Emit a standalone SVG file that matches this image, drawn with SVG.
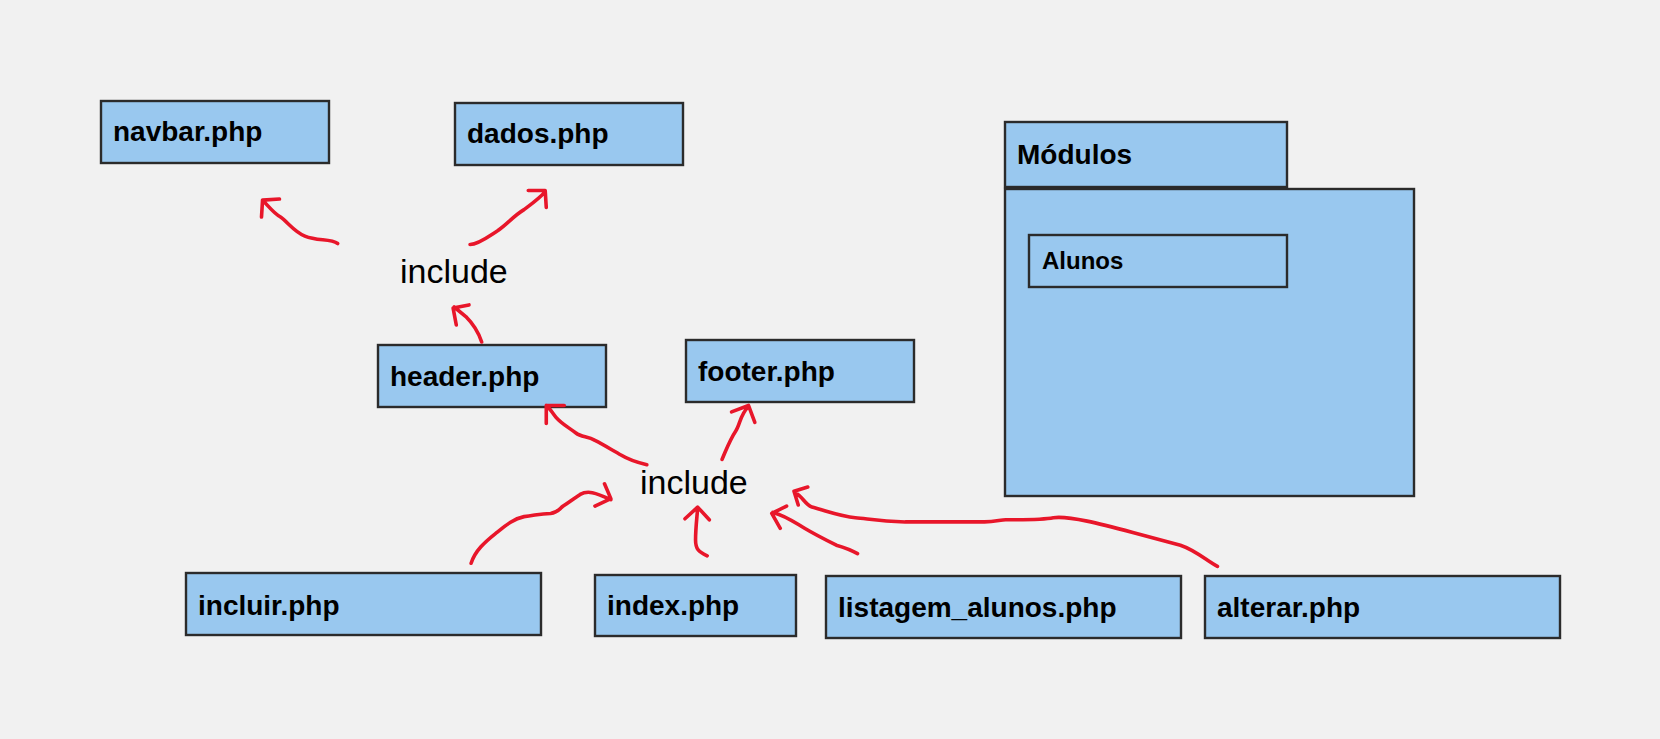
<svg xmlns="http://www.w3.org/2000/svg" width="1660" height="739" viewBox="0 0 1660 739">
<style>
.box{fill:#99c8ef;stroke:#2b2b2b;stroke-width:2.4}
.lbl{font-family:"Liberation Sans",Arial,sans-serif;font-weight:bold;font-size:28px;fill:#000}
.sm{font-size:24px}
.inc{font-family:"Liberation Sans",Arial,sans-serif;font-size:34px;fill:#000}
.ar{fill:none;stroke:#e8162a;stroke-width:3.4;stroke-linecap:round;stroke-linejoin:round}
</style>
<rect width="1660" height="739" fill="#f1f1f1"/>
<g id="navbar"><rect class="box" x="101" y="101" width="228" height="62"/><text class="lbl" x="113" y="141">navbar.php</text></g>
<g id="dados"><rect class="box" x="455" y="103" width="228" height="62"/><text class="lbl" x="467" y="143">dados.php</text></g>
<g id="include-top"><text class="inc" x="400" y="283">include</text></g>
<g id="header"><rect class="box" x="378" y="345" width="228" height="62"/><text class="lbl" x="390" y="386">header.php</text></g>
<g id="footer"><rect class="box" x="686" y="340" width="228" height="62"/><text class="lbl" x="698" y="381">footer.php</text></g>
<g id="include-bottom"><text class="inc" x="640" y="494">include</text></g>
<g id="incluir"><rect class="box" x="186" y="573" width="355" height="62"/><text class="lbl" x="198" y="615">incluir.php</text></g>
<g id="index"><rect class="box" x="595" y="575" width="201" height="61"/><text class="lbl" x="607" y="615">index.php</text></g>
<g id="listagem"><rect class="box" x="826" y="576" width="355" height="62"/><text class="lbl" x="838" y="617">listagem_alunos.php</text></g>
<g id="alterar"><rect class="box" x="1205" y="576" width="355" height="62"/><text class="lbl" x="1217" y="617">alterar.php</text></g>
<g id="modulos"><rect class="box" x="1005" y="122" width="282" height="65"/><rect class="box" x="1005" y="189" width="409" height="307"/><text class="lbl" x="1017" y="164">Módulos</text>
<g id="alunos"><rect class="box" x="1029" y="235" width="258" height="52"/><text class="lbl sm" x="1042" y="269">Alunos</text></g></g>
<g id="connectors" transform="scale(1.05867)">
<path class="ar" d="M319,230 C312,225 300,228 288,223 C278,219 272,210 265,205 C258,201 253,194 248,189 M264,188 L248,189 L247,205"/>
<path class="ar" d="M444,231 C452,231 462,223 470,218 C480,211 485,204 495,198 C503,192 510,187 515,181 M499,180 L515,180 L516,196"/>
<path class="ar" d="M455,323 C452,314 447,306 440,299 L429,290 M443,288 L428,291 L431,307"/>
<path class="ar" d="M611,439 C603,437 595,435 587,430 C578,425 570,420 562,416 C555,412 549,413 544,409 C536,403 530,400 525,394 C521,389 519,385 516,383 M533,383 L516,383 L516,400"/>
<path class="ar" d="M682,434 C686,425 689,416 695,407 C699,401 699,392 707,384 M691,389 L707,383 L713,399"/>
<path class="ar" d="M445,532 C449,520 458,512 468,504 C478,496 485,490 495,488 C505,487 510,485 520,485 C527,484 528,481 532,478 C538,474 542,471 548,467 C555,463 562,465 577,472 M571,457 L577,471 L562,478"/>
<path class="ar" d="M668,525 C660,521 657,519 657,510 C657,500 658,492 659,480 M647,490 L659,479 L670,491"/>
<path class="ar" d="M810,523 C803,519 797,517 790,515 C780,510 770,505 760,499 C750,493 742,487 730,484 M743,478 L729,485 L737,499"/>
<path class="ar" d="M1150,535 C1140,530 1130,520 1115,515 C1100,511 1085,507 1070,503 C1040,495 1010,487 995,489 C985,491 970,491 950,491 C945,491 940,493 930,493 L855,493 C830,492 820,490 808,489 C795,488 785,484 767,479 C760,476 758,469 752,466 M763,460 L750,464 L754,477"/>
</g>
</svg>
